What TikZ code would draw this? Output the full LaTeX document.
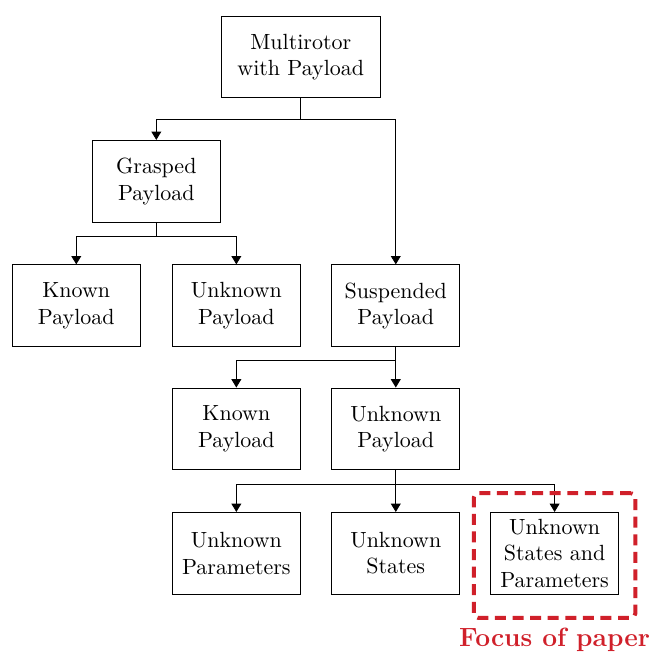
\documentclass[tikz,border=0pt]{standalone}
\usetikzlibrary{fit,positioning,arrows.meta}
\definecolor{focusred}{RGB}{208,32,42}
\begin{document}
\begin{tikzpicture}[
    box/.style={draw, align=center, minimum width=2.05cm, minimum height=1.31cm, inner sep=2pt},
    link/.style={-{Triangle[width=4.5pt,length=3.8pt]}},
]
    \useasboundingbox (0,0) rectangle (10.46,-10.42);

    % Wurzel
    \node[box, minimum width=2.55cm] (root) at (4.81,-0.91) {Multirotor\\with Payload};

    % zweite und dritte Ebene
    \node[box] (grasped) at (2.50,-2.90) {Grasped\\Payload};
    \node[box] (gknown) at (1.22,-4.89) {Known\\Payload};
    \node[box] (gunknown) at (3.78,-4.89) {Unknown\\Payload};
    \node[box] (suspended) at (6.33,-4.89) {Suspended\\Payload};

    \node[box] (sknown) at (3.78,-6.86) {Known\\Payload};
    \node[box] (sunknown) at (6.33,-6.86) {Unknown\\Payload};

    \node[box] (params) at (3.78,-8.85) {Unknown\\Parameters};
    \node[box] (states) at (6.33,-8.85) {Unknown\\States};
    \node[box] (both) at (8.87,-8.85) {Unknown\\States and\\Parameters};

    % Verbindungen
    \draw[link] (root.south) -- ++(0,-0.34) -| (grasped.north);
    \draw[link] (root.south) -- ++(0,-0.34) -| (suspended.north);
    \draw[link] (grasped.south) -- ++(0,-0.22) -| (gknown.north);
    \draw[link] (grasped.south) -- ++(0,-0.22) -| (gunknown.north);
    \draw[link] (suspended.south) -- ++(0,-0.22) -| (sknown.north);
    \draw[link] (suspended.south) -- (sunknown.north);
    \draw[link] (sunknown.south) -- ++(0,-0.22) -| (params.north);
    \draw[link] (sunknown.south) -- (states.north);
    \draw[link] (sunknown.south) -- ++(0,-0.22) -| (both.north);

    % Fokus
    \node[draw=focusred, line width=1.8pt, dash pattern=on 5pt off 3pt, rounded corners=2pt,
          fit=(both), inner xsep=0.26cm, inner ysep=0.335cm, yshift=-0.035cm] (focus) {};
    \node[text=focusred, font=\large\bfseries, below=0pt of focus] (focuslabel) {Focus of paper};
\end{tikzpicture}
\end{document}
